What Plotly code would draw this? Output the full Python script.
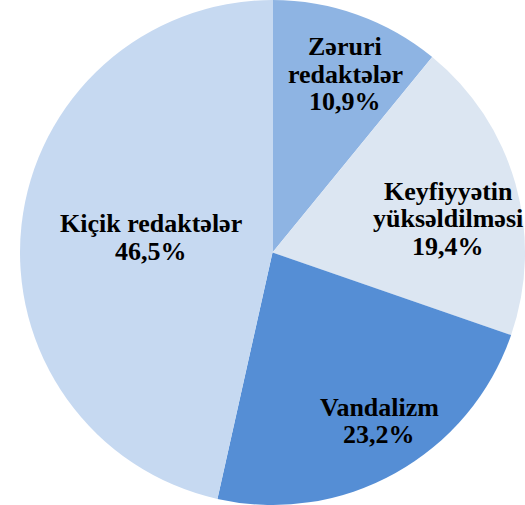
import plotly.graph_objects as go

categories = ["Zəruri\nredaktələr", "Keyfiyyətin\nyüksəldilməsi", "Vandalizm", "Kiçik redaktələr"]
values = [10.9, 19.4, 23.2, 46.5]
colors = ["#8EB4E3", "#DCE6F2", "#558ED5", "#C6D9F1"]

W, H = 525, 505
# label anchor (pixel centre x, first line centre y) for each slice
label_pos = [(345, 47), (448, 191), (379, 407), (151, 224)]
line_gap = 27.5

pct_text = [f"{v:.1f}".replace(".", ",") + "%" for v in values]

fig = go.Figure(go.Pie(
    labels=[c.replace("\n", " ") for c in categories],
    values=values,
    textinfo="none",
    sort=False,
    direction="clockwise",
    rotation=0,
    marker=dict(colors=colors, line=dict(width=0)),
    domain=dict(x=[20 / W, 1.0], y=[0, 1]),
    showlegend=False,
    hoverinfo="skip",
))

font = dict(family="Liberation Serif, Times New Roman, serif", size=26, color="black", weight="bold")
for cat, pct, (px, py) in zip(categories, pct_text, label_pos):
    lines = cat.split("\n") + [pct]
    for i, ln in enumerate(lines):
        fig.add_annotation(
            x=px / W, y=1 - (py + i * line_gap) / H,
            xref="paper", yref="paper",
            text=f"<b>{ln}</b>", showarrow=False,
            xanchor="center", yanchor="middle",
            font=font,
        )

fig.update_layout(
    width=W, height=H,
    margin=dict(l=0, r=0, t=0, b=0),
    paper_bgcolor="white",
)
fig.write_html("out.html", config={"displayModeBar": False},
               post_script="document.body.style.margin='0px';")
